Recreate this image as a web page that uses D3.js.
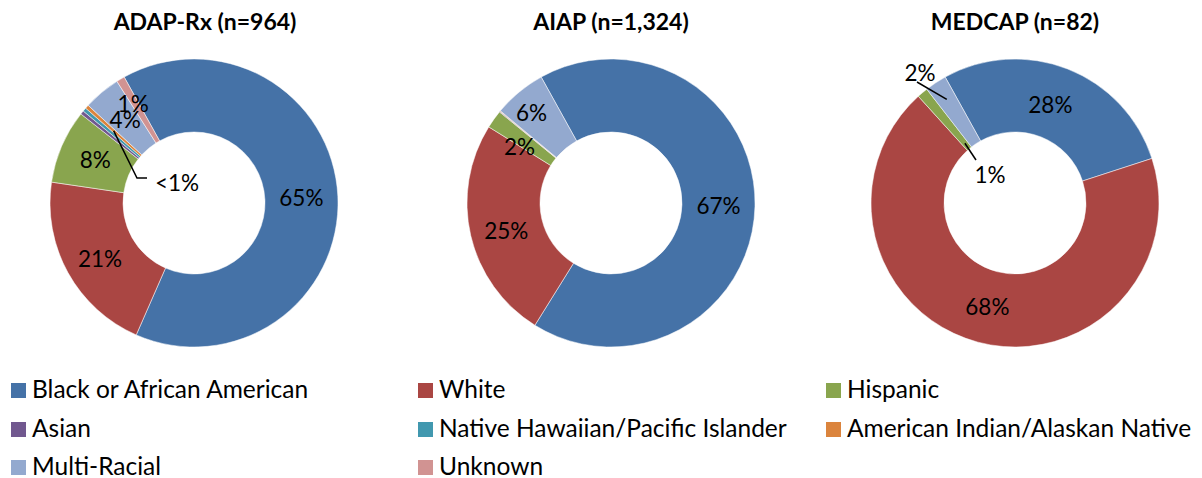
<!DOCTYPE html>
<html>
<head>
<meta charset="utf-8">
<script src="https://cdn.jsdelivr.net/npm/d3@7"></script>
<style>
  body { margin: 0; background: #fff; }
  text { font-family: Lato, "Open Sans", sans-serif; fill: #000; }
</style>
</head>
<body>
<script>
// Data
var categories = ['Black or African American', 'White', 'Hispanic', 'Asian',
    'Native Hawaiian/Pacific Islander', 'American Indian/Alaskan Native',
    'Multi-Racial', 'Unknown'];
var colors = ['#4572A7', '#AA4643', '#89A54E', '#71588F', '#4198AF', '#DB843D', '#93A9CF', '#D19392'];

var titles = ['ADAP-Rx (n=964)', 'AIAP (n=1,324)', 'MEDCAP (n=82)'];

var adapValues = [623, 200, 80, 4, 4, 4, 40, 9];
var aiapValues = [886, 331, 27, 1, 0, 1, 78, 0];
var medcapValues = [23, 56, 1, 0, 0, 0, 2, 0];

var adapLabels = ['65%', '21%', '8%', '', '', '<1%', '4%', '1%'];
var aiapLabels = ['67%', '25%', '2%', '', '', '', '6%', ''];
var medcapLabels = ['28%', '68%', '1%', '', '', '', '2%', ''];

// Layout
var width = 1202, height = 478;
var outerR = 144, innerR = 71;
var centersX = [194, 611, 1015];
var centerY = 203;
var startAngle = -29 * Math.PI / 180;
var labelSize = 22.5;

var svg = d3.select('body').append('svg')
    .attr('width', width)
    .attr('height', height);

var pie = d3.pie().sort(null)
    .startAngle(startAngle)
    .endAngle(startAngle + 2 * Math.PI);

var arc = d3.arc().innerRadius(innerR).outerRadius(outerR);

function polar(angle, r) {
    return [r * Math.sin(angle), -r * Math.cos(angle)];
}

// callouts: labels pulled away from their slice with a leader line
var callouts = {
    '0-5': { r0: 108, points: [[-57, -25], [-47, -25]], text: [-39, -20], anchor: 'start' },
    '2-6': { r0: 124, points: [[-98, -121]], text: [-95, -130], anchor: 'middle' },
    '2-2': { r0: 78, points: [[-39, -43]], text: [-25, -28], anchor: 'middle' }
};
// small nudges for a few in-ring labels
var nudges = { '0-1': [0, 4], '1-1': [0, 4], '1-2': [-4, 7], '1-6': [-11, -7], '0-7': [-6, -6], '2-0': [-4, 2] };

var allValues = [adapValues, aiapValues, medcapValues];
var allLabels = [adapLabels, aiapLabels, medcapLabels];

allValues.forEach(function(values, c) {
    var g = svg.append('g')
        .attr('transform', 'translate(' + centersX[c] + ',' + centerY + ')');

    var arcs = pie(values);

    g.selectAll('path')
        .data(arcs)
        .enter()
        .append('path')
        .attr('d', arc)
        .attr('fill', function(d, i) { return colors[i]; })
        .attr('stroke', function(d) { return d.value > 0 ? '#fff' : 'none'; })
        .attr('stroke-width', 0.5);

    g.append('text')
        .attr('x', c === 0 ? 11 : 0)
        .attr('y', -173)
        .attr('text-anchor', 'middle')
        .attr('font-size', 23)
        .attr('font-weight', 'bold')
        .text(titles[c]);

    arcs.forEach(function(d, i) {
        var label = allLabels[c][i];
        if (!label) return;
        var mid = (d.startAngle + d.endAngle) / 2;
        var key = c + '-' + i;
        if (callouts[key]) {
            var co = callouts[key];
            var p0 = polar(mid, co.r0);
            var pts = [p0].concat(co.points);
            g.append('path')
                .attr('d', d3.line()(pts))
                .attr('fill', 'none')
                .attr('stroke', '#000')
                .attr('stroke-width', 1.5);
            g.append('text')
                .attr('x', co.text[0])
                .attr('y', co.text[1])
                .attr('dy', '0.35em')
                .attr('text-anchor', co.anchor)
                .attr('font-size', labelSize)
                .text(label);
        } else {
            var p = polar(mid, (innerR + outerR) / 2);
            var n = nudges[key] || [0, 0];
            g.append('text')
                .attr('x', p[0] + n[0])
                .attr('y', p[1] + n[1])
                .attr('dy', '0.35em')
                .attr('text-anchor', 'middle')
                .attr('font-size', labelSize)
                .text(label);
        }
    });
});

// Legend
var legendX = [11, 418, 826];
var legendBase = [398, 437, 475];
var legend = svg.append('g');
categories.forEach(function(name, i) {
    var col = i % 3, row = Math.floor(i / 3);
    legend.append('rect')
        .attr('x', legendX[col])
        .attr('y', legendBase[row] - 15)
        .attr('width', 15)
        .attr('height', 15)
        .attr('fill', colors[i]);
    legend.append('text')
        .attr('x', legendX[col] + 21)
        .attr('y', legendBase[row])
        .attr('font-size', 24.5)
        .text(name);
});
</script>
</body>
</html>
